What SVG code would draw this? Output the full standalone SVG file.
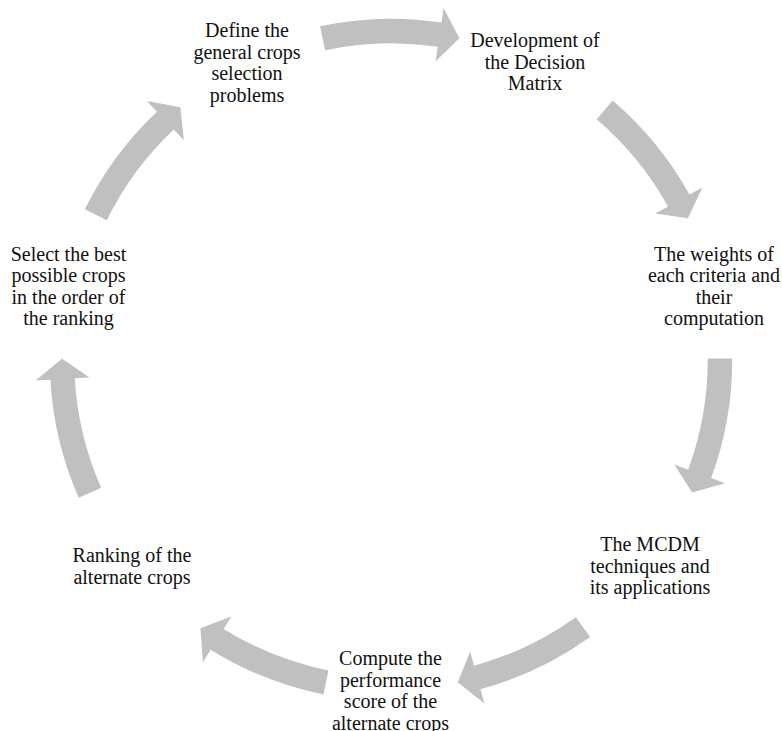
<svg xmlns="http://www.w3.org/2000/svg" width="782" height="731" viewBox="0 0 782 731">
<style>
.lbl{font-family:"Liberation Serif","Times New Roman",serif;font-size:20px;fill:#111;text-anchor:middle}
.arr{fill:#c0c0c0}
</style>
<defs>
<path id="carrow" class="arr" d="M333.79,-70.95 A341.25,341.25 0 0 1 337.50,50.44 L352.09,52.62 L321.81,68.40 L298.68,44.64 L313.27,46.82 A316.75,316.75 0 0 0 309.83,-65.86 Z"/>
</defs>
<rect width="782" height="731" fill="#fff"/>
<g id="connectors">
<use href="#carrow" transform="translate(391,360) rotate(-90)"/>
<use href="#carrow" transform="translate(391,360) rotate(-37.5)"/>
<use href="#carrow" transform="translate(391,360) rotate(11.75)"/>
<use href="#carrow" transform="translate(391,360) rotate(66.3)"/>
<use href="#carrow" transform="translate(391,360) rotate(113.4)"/>
<use href="#carrow" transform="translate(391,360) rotate(168.2)"/>
<use href="#carrow" transform="translate(391,360) rotate(218.2)"/>
</g>
<g id="n1"><text class="lbl" x="247" y="37">Define the</text><text class="lbl" x="247" y="58.5">general crops</text><text class="lbl" x="247" y="80">selection</text><text class="lbl" x="247" y="101.5">problems</text></g>
<g id="n2"><text class="lbl" x="535" y="47">Development of</text><text class="lbl" x="535" y="68.5">the Decision</text><text class="lbl" x="535" y="90">Matrix</text></g>
<g id="n3"><text class="lbl" x="714" y="260.5">The weights of</text><text class="lbl" x="714" y="282">each criteria and</text><text class="lbl" x="714" y="303.5">their</text><text class="lbl" x="714" y="325">computation</text></g>
<g id="n4"><text class="lbl" x="650" y="551">The MCDM</text><text class="lbl" x="650" y="572.5">techniques and</text><text class="lbl" x="650" y="594">its applications</text></g>
<g id="n5"><text class="lbl" x="390.5" y="665">Compute the</text><text class="lbl" x="390.5" y="686.5">performance</text><text class="lbl" x="390.5" y="708">score of the</text><text class="lbl" x="390.5" y="729.5">alternate crops</text></g>
<g id="n6"><text class="lbl" x="132" y="562">Ranking of the</text><text class="lbl" x="132" y="583.5">alternate crops</text></g>
<g id="n7"><text class="lbl" x="68.5" y="260.5">Select the best</text><text class="lbl" x="68.5" y="282">possible crops</text><text class="lbl" x="68.5" y="303.5">in the order of</text><text class="lbl" x="68.5" y="325">the ranking</text></g>
</svg>
